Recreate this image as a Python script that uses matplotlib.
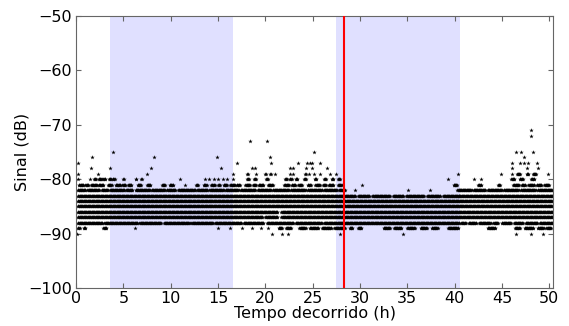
"""Sinal recebido (dB) ao longo do tempo, com periodos destacados."""
import numpy as np
import matplotlib
matplotlib.use("Agg")
import matplotlib.pyplot as plt

# ----------------------------------------------------------------
# Data
# ----------------------------------------------------------------
# densely sampled runs: (t_start, t_end) in hours, per dB level
DT = 0.06  # sampling interval (h) inside a run

run_m82 = [(0.2, 1.0), (1.2, 2.5), (2.7, 3.4), (3.6, 5.1), (5.3, 6.0),
           (6.3, 7.8), (8.0, 9.4), (9.6, 10.5), (10.8, 12.6), (12.8, 13.9),
           (14.1, 15.6), (15.8, 17.2), (17.4, 19.0), (19.2, 20.6),
           (20.8, 22.5), (22.7, 24.3), (24.5, 26.0), (26.2, 27.6),
           (27.8, 28.4), (40.3, 41.8), (42.0, 43.3), (43.5, 45.0),
           (45.2, 46.8), (47.0, 48.6), (48.8, 50.4)]
run_m83 = [(0.2, 28.0), (28.0, 29.5), (29.8, 31.0), (31.3, 33.2),
           (33.5, 34.6), (34.9, 36.8), (37.1, 38.5), (38.8, 40.5),
           (40.5, 50.4)]
run_m84 = [(0.2, 50.4)]
run_m85 = [(0.2, 50.4)]
run_m86 = [(0.2, 21.3), (21.7, 50.4)]
run_m87 = [(0.2, 19.7), (20.0, 21.3), (21.7, 50.4)]
run_m88 = [(0.2, 2.8), (3.0, 6.5), (6.7, 9.0), (9.3, 12.0), (12.2, 14.5),
           (14.7, 17.5), (17.7, 19.8), (20.2, 23.0), (23.2, 26.0),
           (26.2, 28.0), (28.0, 40.5), (40.7, 41.2), (41.5, 42.3),
           (42.6, 43.8), (44.1, 44.6), (45.0, 46.0), (46.3, 47.2),
           (47.5, 48.8), (49.0, 50.4)]
run_m81 = [(0.3, 0.8), (1.0, 1.3), (1.6, 2.2), (2.4, 2.9), (3.4, 3.8),
           (4.2, 4.7), (4.9, 5.2), (5.5, 5.9), (6.5, 6.9), (7.5, 7.9),
           (9.1, 9.4), (9.9, 10.3), (12.7, 12.9), (13.5, 13.8), (14.3, 14.7),
           (15.0, 15.2), (15.6, 16.0), (16.3, 16.8), (17.0, 17.3),
           (17.9, 18.4), (18.7, 19.0), (19.3, 19.8), (20.3, 20.8),
           (22.0, 22.5), (22.8, 23.2), (23.5, 23.9), (24.5, 24.8),
           (25.3, 25.8), (26.1, 26.4), (26.7, 27.2), (27.7, 28.1),
           (39.9, 40.3), (42.5, 42.8), (44.6, 44.8), (46.2, 46.8),
           (47.1, 47.5), (47.8, 48.4), (48.7, 49.2), (49.5, 50.0)]
run_m80 = [(1.9, 2.1), (2.4, 2.7), (2.9, 3.1), (3.5, 3.7), (3.9, 4.1),
           (5.0, 5.1), (6.3, 6.4), (6.9, 7.0), (18.1, 18.3), (18.8, 19.0),
           (20.1, 20.3), (22.1, 22.3), (22.6, 22.8), (23.2, 23.4),
           (24.1, 24.3), (25.2, 25.4), (26.2, 26.4), (27.0, 27.2),
           (27.7, 27.9), (46.0, 46.3), (46.9, 47.2), (48.1, 48.4)]
run_m79 = [(18.1, 18.2), (20.0, 20.1), (20.5, 20.6), (24.2, 24.3),
           (46.6, 46.9), (47.6, 47.8), (48.3, 48.6)]
run_m89 = [(0.2, 0.4), (0.8, 1.0), (2.9, 3.2), (21.4, 21.8), (22.2, 22.7),
           (23.6, 24.3), (24.7, 25.6), (26.0, 27.0), (27.3, 28.4),
           (28.9, 29.2), (29.8, 30.2), (32.5, 33.2), (33.6, 34.4),
           (35.0, 35.8), (36.4, 37.1), (37.6, 38.2), (39.3, 40.4),
           (43.5, 44.3), (46.4, 46.9), (47.4, 48.3), (48.8, 49.4),
           (49.7, 50.2)]

runs = {-79: run_m79, -80: run_m80, -81: run_m81, -82: run_m82,
        -83: run_m83, -84: run_m84, -85: run_m85, -86: run_m86,
        -87: run_m87, -88: run_m88, -89: run_m89}

# isolated samples
iso_t = [0.25, 2.36, 7.46, 16.6, 19.0, 21.0, 22.6, 22.9, 24.6, 25.1, 25.8,
         26.8, 27.5, 40.4, 44.9, 46.1, 49.9,                    # -79
         1.55, 3.59, 7.95, 15.3, 18.55, 18.9, 22.6, 22.95, 24.35, 24.9,
         26.5, 46.1, 47.6, 48.8,                                # -78
         0.25, 17.0, 20.55, 23.5, 24.4, 24.7, 24.95, 25.8, 46.1, 46.9,
         47.3, 47.8, 48.7,                                      # -77
         1.72, 8.24, 14.85, 20.49, 47.3,                        # -76
         3.87, 25.17, 46.5, 47.0, 48.3,                         # -75
         18.37, 20.13,                                          # -73
         48.1, 48.1,                                            # -72, -71
         0.25, 1.5, 11.0, 13.6, 14.1, 14.6, 15.0, 15.5, 16.0, 16.6, 39.3,
         42.1, 42.8,                                            # -80
         11.5, 30.2,                                            # -81
         29.5, 35.1, 37.4,                                      # -82
         6.2, 15.0, 16.3, 17.5, 18.6, 19.5, 20.3,               # -89
         0.1, 20.66, 21.8, 22.4, 27.9, 34.5, 46.5, 48.1, 49.35]  # -90
iso_s = ([-79] * 17 + [-78] * 14 + [-77] * 13 + [-76] * 5 + [-75] * 5
         + [-73] * 2 + [-72, -71] + [-80] * 13 + [-81] * 2 + [-82] * 3
         + [-89] * 7 + [-90] * 9)

shade_spans = [(3.59, 16.55), (27.5, 40.55)]
event_t = 28.3

# expand runs into sample points
pt_t, pt_s = list(iso_t), list(iso_s)
for level, segs in runs.items():
    for t0, t1 in segs:
        tt = np.arange(t0, t1 + 1e-9, DT)
        pt_t.extend(tt)
        pt_s.extend([level] * len(tt))

# ----------------------------------------------------------------
# Plot
# ----------------------------------------------------------------
plt.rcParams.update({
    "font.family": "DejaVu Sans",
    "font.size": 11.5,
    "xtick.direction": "in",
    "ytick.direction": "in",
    "xtick.top": True,
    "ytick.right": True,
    "xtick.major.size": 3.5,
    "ytick.major.size": 3.5,
    "xtick.major.pad": 2,
    "ytick.major.pad": 3,
    "axes.edgecolor": "0.4",
    "xtick.color": "0.4",
    "ytick.color": "0.4",
    "xtick.labelcolor": "black",
    "ytick.labelcolor": "black",
})

fig = plt.figure(figsize=(5.69, 3.26), dpi=100)
ax = fig.add_axes([0.1336, 0.1166, 0.8383, 0.8344])

for a, b in shade_spans:
    ax.axvspan(a, b, color="blue", alpha=0.12, lw=0, zorder=0)

ax.plot(pt_t, pt_s, "k*", ms=3.3, mew=0, zorder=2)
ax.axvline(event_t, color="red", lw=1.5, zorder=3)

ax.set_xlim(0, 50.4)
ax.set_ylim(-100, -50)
ax.set_xticks(range(0, 51, 5))
ax.set_yticks(range(-100, -49, 10))
ax.set_xlabel("Tempo decorrido (h)", labelpad=0)
ax.set_ylabel("Sinal (dB)")
ax.yaxis.set_label_coords(-0.097, 0.5)
for sp in ax.spines.values():
    sp.set_linewidth(0.8)

fig.savefig("out.png", dpi=100)
